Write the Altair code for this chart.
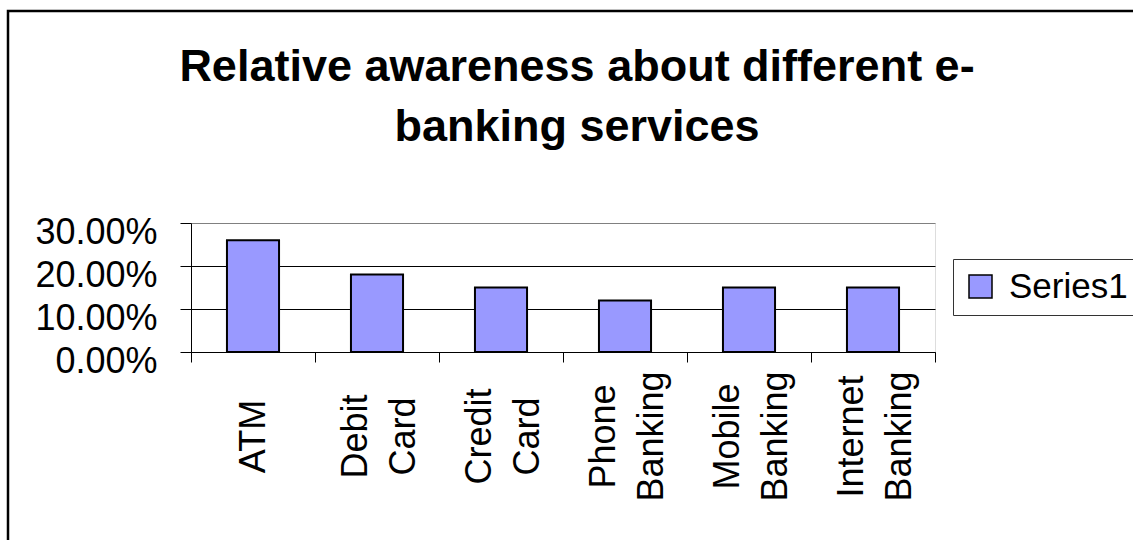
import altair as alt
import pandas as pd

categories = ["ATM", "Debit Card", "Credit Card", "Phone Banking", "Mobile Banking", "Internet Banking"]
values = [0.26, 0.18, 0.15, 0.12, 0.15, 0.15]
series = ["Series1"] * len(categories)
y_ticks = [0.0, 0.1, 0.2, 0.3]
title_lines = ["Relative awareness about different e-", "banking services"]

FONT = "Liberation Sans"
df = pd.DataFrame({"category": categories, "value": values, "series": series})

bars = alt.Chart(df).mark_bar(
    width=alt.RelativeBandSize(0.42), stroke="black", strokeWidth=2
).encode(
    x=alt.X(
        "category:N",
        sort=categories,
        scale=alt.Scale(paddingInner=0, paddingOuter=0),
        axis=alt.Axis(
            title=None,
            labelAngle=-90,
            labelAlign="center",
            labelBaseline="middle",
            labelExpr="split(datum.label, ' ')",
            labelLineHeight=48,
            labelPadding=74,
            labelOffset=alt.condition("indexof(datum.label, ' ') >= 0", alt.value(-22), alt.value(0)),
            labelFontSize=36,
            labelFont=FONT,
            labelColor="black",
            labelOverlap=False,
            labelLimit=400,
            tickBand="extent",
            tickSize=10,
            tickColor="black",
            domainColor="black",
            domainWidth=1,
        ),
    ),
    y=alt.Y(
        "value:Q",
        scale=alt.Scale(domain=[0, 0.3], nice=False),
        axis=alt.Axis(
            title=None,
            values=y_ticks,
            format=".2%",
            labelFontSize=36,
            labelFont=FONT,
            labelColor="black",
            labelPadding=23,
            labelOffset=9,
            tickSize=11,
            tickColor="black",
            domainColor="black",
            grid=True,
            gridColor=alt.condition("datum.value >= 0.3", alt.value("#808080"), alt.value("black")),
            gridWidth=1,
        ),
    ),
    color=alt.Color(
        "series:N",
        scale=alt.Scale(range=["#9999FF"]),
        legend=alt.Legend(
            title=None,
            orient="none",
            legendX=762,
            legendY=36,
            symbolType="square",
            symbolSize=529,
            symbolStrokeColor="black",
            symbolStrokeWidth=1.5,
            symbolOpacity=1,
            labelFontSize=35,
            labelFont=FONT,
            labelColor="black",
            labelOffset=11,
            padding=10,
            strokeColor="#333333",
            fillColor="white",
            cornerRadius=0,
        ),
    ),
)

frame = alt.Chart(pd.DataFrame({"a": [0]})).mark_rect(
    fill=None, stroke="black", strokeWidth=2.5
).encode(
    x=alt.value(-183), x2=alt.value(960), y=alt.value(-212), y2=alt.value(330)
)

chart = alt.layer(frame, bars).properties(
    width=744,
    height=129,
    title=alt.TitleParams(
        text=title_lines,
        fontSize=45,
        font=FONT,
        fontWeight="bold",
        color="black",
        lineHeight=60,
        anchor="middle",
        frame="group",
        baseline="bottom",
        offset=-185,
        dx=14,
    ),
    autosize=alt.AutoSizeParams(type="none"),
    padding={"left": 191, "top": 223, "right": 198, "bottom": 188},
).configure_view(
    fill="#C0C0C0", stroke="#808080", strokeWidth=1
).configure(background="white")

chart.save("out.html", embed_options={"renderer": "svg", "actions": False})
